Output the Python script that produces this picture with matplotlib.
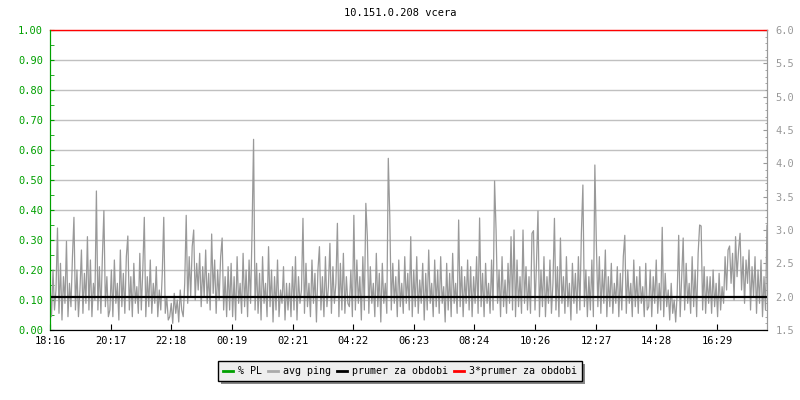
import numpy as np
import matplotlib
matplotlib.use('Agg')
import matplotlib.pyplot as plt
from matplotlib.lines import Line2D

# avg ping [ms], one value every ~3 minutes, one row per 2 hours
ping = [
    2.2, 1.7, 2.4, 1.8, 2.1, 3.03, 1.75, 2.5, 1.65, 2.3, 1.9, 2.83, 1.7, 2.2, 1.85, 2.6, 3.19, 1.8, 2.4, 1.7,
    2.1, 2.7, 1.75, 2.35, 1.9, 2.9, 1.8, 2.55, 1.7, 2.2, 1.95, 3.585, 1.8, 2.45, 1.75, 2.6, 3.29, 1.85, 2.3, 1.7,
    1.8, 2.4, 1.7, 2.55, 1.9, 2.2, 1.65, 2.7, 1.85, 2.35, 1.75, 2.6, 2.91, 1.8, 2.3, 1.7, 2.5, 1.9, 2.15, 1.75,
    2.65, 1.8, 2.4, 3.19, 1.7, 2.3, 1.85, 2.55, 1.75, 2.2, 1.9, 2.45, 1.7, 2.1, 1.8, 2.35, 3.19, 1.75, 2.0, 1.65,
    1.7, 1.9, 1.6, 2.05, 1.75, 1.95, 1.62, 2.1, 1.8, 1.7, 2.2, 3.22, 1.9, 2.6, 2.0, 2.75, 3.0, 1.95, 2.5, 2.1,
    2.65, 1.85, 2.45, 2.0, 2.7, 1.9, 2.35, 1.8, 2.94, 2.05, 2.55, 1.75, 2.4, 1.95, 2.6, 2.88, 1.8, 2.3, 1.7, 2.45,
    1.8, 2.5, 1.7, 2.3, 1.65, 2.6, 1.9, 2.2, 1.75, 2.65, 1.85, 2.4, 1.7, 2.55, 1.9, 3.0, 4.36, 1.8, 2.5, 1.75,
    2.35, 1.65, 2.6, 1.9, 2.2, 1.7, 2.75, 1.85, 2.4, 1.62, 2.3, 1.8, 2.55, 1.7, 2.1, 1.9, 2.45, 1.65, 2.2, 1.8,
    2.2, 1.7, 2.45, 1.8, 2.6, 1.65, 2.3, 1.9, 2.1, 3.175, 1.75, 2.5, 1.85, 2.2, 1.7, 2.55, 1.9, 2.35, 1.62, 2.4,
    2.75, 1.8, 2.3, 1.7, 2.6, 1.85, 2.15, 2.8, 1.75, 2.45, 1.9, 2.2, 3.1, 1.7, 2.5, 1.8, 2.65, 1.75, 2.3, 1.9,
    1.85, 2.4, 1.7, 3.22, 1.8, 2.55, 1.9, 2.3, 1.65, 2.6, 1.8, 3.4, 2.9, 1.75, 2.45, 1.9, 2.2, 1.7, 2.65, 1.85,
    2.35, 1.62, 2.5, 1.9, 2.2, 1.75, 4.075, 3.2, 1.8, 2.5, 1.9, 2.3, 1.7, 2.55, 1.85, 2.2, 1.75, 2.6, 1.9, 2.35,
    1.8, 2.9, 1.7, 2.4, 1.85, 2.6, 1.75, 2.25, 1.9, 2.5, 1.65, 2.35, 1.8, 2.7, 1.9, 2.2, 1.7, 2.55, 1.85, 2.4,
    1.75, 2.6, 1.9, 2.15, 1.62, 2.5, 1.8, 2.35, 1.7, 2.65, 1.9, 2.2, 1.75, 3.15, 1.85, 2.45, 1.7, 2.3, 1.9, 2.55,
    1.8, 2.45, 1.7, 2.3, 1.9, 2.6, 1.75, 3.18, 1.85, 2.35, 1.7, 2.5, 1.9, 2.2, 1.75, 2.55, 1.8, 3.735, 3.0, 1.9,
    2.4, 1.7, 2.6, 1.85, 2.25, 1.75, 2.5, 1.9, 2.9, 1.8, 3.0, 1.7, 2.55, 1.85, 2.3, 1.75, 3.0, 1.9, 2.45, 1.8,
    2.3, 1.75, 2.95, 2.99, 1.8, 2.5, 3.285, 1.7, 2.4, 1.85, 2.6, 1.7, 2.3, 1.9, 2.55, 1.75, 2.2, 3.175, 1.8, 2.45,
    1.7, 2.88, 1.9, 2.3, 1.75, 2.6, 1.85, 2.2, 1.65, 2.5, 1.9, 2.35, 1.75, 2.6, 1.8, 2.96, 3.675, 1.85, 2.4, 1.7,
    2.3, 1.8, 2.55, 1.7, 3.975, 2.8, 1.85, 2.6, 1.75, 2.4, 1.9, 2.7, 1.7, 2.3, 1.85, 2.5, 1.75, 2.2, 1.9, 2.45,
    1.7, 2.35, 1.8, 2.6, 2.92, 1.75, 2.4, 1.9, 2.2, 1.7, 2.55, 1.85, 2.3, 1.75, 2.45, 1.9, 2.15, 1.7, 2.5, 1.8,
    1.85, 2.4, 1.7, 2.3, 1.9, 2.55, 1.75, 2.2, 1.8, 3.04, 1.7, 2.35, 1.85, 2.1, 1.65, 2.2, 1.75, 1.95, 1.62, 2.05,
    2.92, 1.7, 2.3, 2.88, 1.8, 2.5, 1.9, 2.2, 1.75, 2.6, 1.85, 2.4, 1.7, 2.65, 3.075, 3.06, 1.8, 2.45, 1.75, 2.3,
    1.9, 2.3, 1.75, 2.4, 1.85, 2.2, 1.7, 2.35, 1.8, 2.15, 1.9, 2.6, 2.1, 2.7, 2.76, 2.2, 2.65, 1.95, 2.9, 2.3,
    2.7, 2.95, 2.1, 2.6, 1.9, 2.55, 2.2, 2.7, 1.8, 2.45, 2.0, 2.6, 1.75, 2.4, 1.9, 2.55, 1.7, 2.3, 1.8, 3.07,
]
prumer = 2.0          # mean ping for the period
span_min = 1433       # length of the period in minutes
start_time = '18:16'
tick_labels = ['18:16', '20:17', '22:18', '00:19', '02:21', '04:22',
               '06:23', '08:24', '10:26', '12:27', '14:28', '16:29']
legend_labels = ['% PL', 'avg ping', 'prumer za obdobi', '3*prumer za obdobi']
title = '10.151.0.208 vcera'

green = '#00a000'
grey = '#999999'
font = 'DejaVu Sans Mono'
plt.rcParams['font.family'] = font


def to_min(s):
    h, m = s.split(':')
    return int(h) * 60 + int(m)


start = to_min(start_time)
tick_pos = [(to_min(t) - start) % 1440 for t in tick_labels]
x = np.linspace(0, span_min, len(ping))

fig = plt.figure(figsize=(8, 4), dpi=100)
ax = fig.add_axes([50 / 800, 1 - 330 / 400, 717 / 800, 300 / 400])
ax2 = ax.twinx()

# left axis (% PL)
ax.set_ylim(0, 1)
ax.set_xlim(0, span_min)
ax.set_yticks(np.arange(0, 1.01, 0.1))
ax.set_yticks(np.arange(0.05, 1.0, 0.1), minor=True)
ax.set_yticklabels(['%.2f' % v for v in np.arange(0, 1.01, 0.1)])
ax.grid(axis='y', color='#c0c0c0', lw=1)
ax.tick_params(axis='y', which='both', direction='in', length=3, color=green,
               labelcolor=green, labelsize=7.5, pad=5)
ax.set_xticks(tick_pos)
ax.set_xticklabels(tick_labels)
ax.tick_params(axis='x', direction='in', length=4, color='black', labelsize=7.5, pad=4)
ax.spines['left'].set_color(green)
ax.spines['bottom'].set_color('black')
for a in (ax, ax2):
    a.spines['top'].set_visible(False)
    a.spines['right'].set_color(grey)
ax2.spines['left'].set_color(green)

# right axis (ping)
ax2.plot(x, ping, color=grey, lw=0.9)
ax2.axhline(prumer, color='black', lw=1.6)
ax2.axhline(3 * prumer, color='red', lw=1, clip_on=False)
ax2.set_ylim(1.5, 6.0)
ax2.set_yticks(np.arange(1.5, 6.01, 0.5))
ax2.set_yticks(np.arange(1.5, 6.01, 0.1), minor=True)
ax2.set_yticklabels(['%.1f' % v for v in np.arange(1.5, 6.01, 0.5)])
ax2.tick_params(axis='y', which='major', direction='in', length=3, color=grey,
                labelcolor=grey, labelsize=7.5, pad=6)
ax2.tick_params(axis='y', which='minor', direction='in', length=1.5, color=grey)

fig.text(0.5, 1 - 13 / 400, title, ha='center', va='center', fontsize=7.5)

handles = [Line2D([], [], color=c, lw=2) for c in [green, '#aaaaaa', 'black', 'red']]
leg = fig.legend(handles, legend_labels, loc='center', bbox_to_anchor=(0.5, 1 - 371 / 400),
                 ncol=4, fontsize=7.2, frameon=True, fancybox=False,
                 shadow={'ox': 2.2, 'oy': -2.2, 'facecolor': '#888888', 'edgecolor': 'none', 'alpha': 1},
                 handlelength=1.0, handletextpad=0.5, columnspacing=0.6, borderpad=0.5)
leg.get_frame().set_facecolor('#eeeeee')
leg.get_frame().set_edgecolor('black')
leg.get_frame().set_linewidth(1)
leg.get_frame().set_alpha(1)

fig.savefig('out.png', dpi=100)
